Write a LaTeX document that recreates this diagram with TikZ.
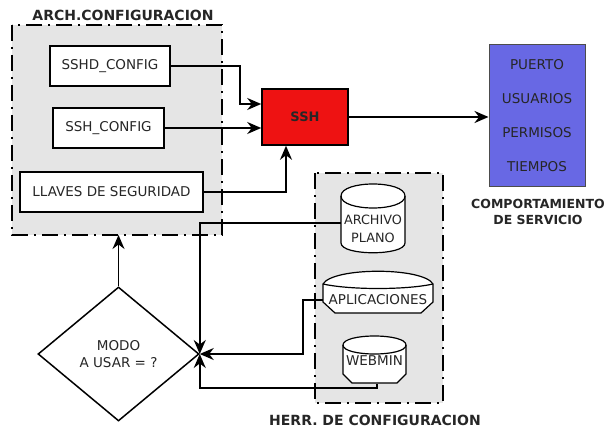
\documentclass[tikz,border=0pt]{standalone}
\usepackage{fontspec}
\setmainfont{DejaVu Sans}
\usetikzlibrary{shapes.geometric,arrows.meta}
\definecolor{sshred}{RGB}{238,18,18}
\definecolor{servblue}{RGB}{104,104,228}
\definecolor{grpgray}{RGB}{229,229,229}

\begin{document}
\begin{tikzpicture}[x=1pt,y=-1pt,
  every node/.style={font=\fontsize{13.5}{16}\selectfont,text=black!85},
  grp/.style={draw,fill=grpgray,line width=1.7pt,dash pattern=on 16pt off 6pt on 2pt off 6pt},
  cfg/.style={rectangle,draw,fill=white,line width=1.6pt,minimum height=40,inner sep=2pt},
  store/.style={draw,fill=white,line width=1.2pt},
  storetxt/.style={align=center,inner sep=0pt},
  title/.style={font=\fontsize{14}{16}\selectfont\bfseries,align=center},
  conn/.style={line width=1.8pt,-{Stealth[length=14pt,width=12pt]}}
]
  \useasboundingbox (0,0) rectangle (609,430);

  % grupos
  \draw[grp] (12,25) rectangle (222,235);
  \draw[grp] (315,173) rectangle (443,403);
  \node[title] (archt) at (123,15) {ARCH.CONFIGURACION};
  \node[title] (herrt) at (375,420) {HERR. DE CONFIGURACION};

  % archivos
  \node[cfg,minimum width=120] (sshd) at (110,66) {SSHD\_CONFIG};
  \node[cfg,minimum width=111] (sshcfg) at (108.5,128) {SSH\_CONFIG};
  \node[cfg,minimum width=183] (llaves) at (111.5,192) {LLAVES DE SEGURIDAD};

  \node[rectangle,draw,fill=sshred,line width=1.6pt,minimum width=86,minimum height=56,
        font=\fontsize{13}{15}\selectfont\bfseries] (ssh) at (305,117) {SSH};
  \node[rectangle,draw=black!70,fill=servblue,line width=1pt,minimum width=96,minimum height=142,
        align=center,font=\fontsize{13.5}{34}\selectfont] (serv) at (537,116)
        {PUERTO\\USUARIOS\\PERMISOS\\TIEMPOS};
  \node[title,font=\fontsize{12.5}{16}\selectfont\bfseries] (compt) at (538,212) {COMPORTAMIENTO\\DE SERVICIO};

  % herramientas
  \draw[store] (341,196) .. controls (341,180) and (405,180) .. (405,196) -- (405,243)
    .. controls (405,256) and (341,256) .. (341,243) -- cycle;
  \draw[line width=1.2pt] (341,196) .. controls (341,212) and (405,212) .. (405,196);
  \node[storetxt,minimum width=64,font=\fontsize{12.8}{18}\selectfont] (plano) at (373,229) {ARCHIVO\\PLANO};

  \draw[store] (323,284) .. controls (333,267) and (423,267) .. (433,284) -- (433,302)
    -- (421,313) -- (335,313) -- (323,302) -- cycle;
  \draw[line width=1.2pt] (323,284) .. controls (350,290) and (406,290) .. (433,284);
  \node[storetxt,minimum width=110] (apli) at (378,300) {APLICACIONES};

  \draw[store] (343,345) .. controls (343,333) and (406,333) .. (406,345) -- (406,374)
    -- (397,383) -- (352,383) -- (343,374) -- cycle;
  \draw[line width=1.2pt] (343,345) .. controls (343,357) and (406,357) .. (406,345);
  \node[storetxt,minimum width=63,minimum height=47] (web) at (374.5,360.5) {WEBMIN};

  \node[diamond,draw,fill=white,line width=1.5pt,minimum width=161,minimum height=134,
        align=center,font=\fontsize{13.5}{17}\selectfont] (modo) at (118.5,354) {MODO\\A USAR = ?};

  % conexiones
  \draw[conn] (sshd.east) -- ++(69,0) |- ([yshift=13pt]ssh.west);
  \draw[conn] (sshcfg.east) -- (sshcfg.east -| ssh.west);
  \draw[conn] (llaves.east) -| ([xshift=-19pt]ssh.south);
  \draw[conn,line width=2.6pt] (ssh.east) -- (ssh.east -| serv.west);
  \draw[conn] (modo.north) -- (modo.north |- 0,235);
  \draw[conn] ([yshift=6pt]plano.west) -| (modo.east);
  \draw[conn] (apli.west) -- ++(-20,0) |- (modo.east);
  \draw[conn] ([xshift=2.5pt]web.south) -- ++(0,4) -| (modo.east);
\end{tikzpicture}
\end{document}
